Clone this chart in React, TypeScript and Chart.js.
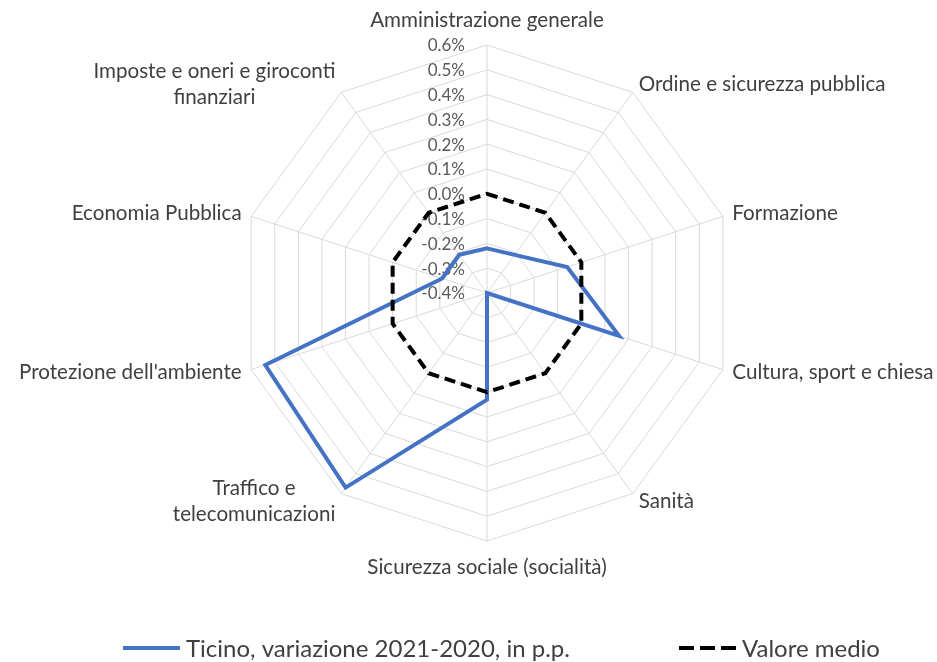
import { useEffect, useRef } from 'react';
import { Chart, registerables } from 'chart.js';

Chart.register(...registerables);

const CATEGORIES: (string | string[])[] = [
  'Amministrazione generale',
  'Ordine e sicurezza pubblica',
  'Formazione',
  'Cultura, sport e chiesa',
  'Sanità',
  'Sicurezza sociale (socialità)',
  ['Traffico e', 'telecomunicazioni'],
  "Protezione dell'ambiente",
  'Economia Pubblica',
  ['Imposte e oneri e giroconti', 'finanziari'],
];

const TICINO = [-0.22, -0.21, -0.06, 0.16, -0.4, 0.03, 0.57, 0.54, -0.21, -0.21];
const VALORE_MEDIO = [0, 0, 0, 0, 0, 0, 0, 0, 0, 0];

const TICK_VALUES = [-0.4, -0.3, -0.2, -0.1, 0.0, 0.1, 0.2, 0.3, 0.4, 0.5, 0.6];
const TICK_LABELS = ['-0.4%', '-0.3%', '-0.2%', '-0.1%', '0.0%', '0.1%', '0.2%', '0.3%', '0.4%', '0.5%', '0.6%'];

const SERIES_NAMES = ['Ticino, variazione 2021-2020, in p.p.', 'Valore medio'];

const FONT = 'Lato, "Open Sans", sans-serif';
const BLUE = '#4472C4';
const BLACK = '#000000';

const excelDecor = {
  id: 'excelDecor',
  beforeDatasetsDraw(chart: any) {
    const s = chart.scales.r;
    const ctx = chart.ctx;
    ctx.save();
    ctx.font = `17px ${FONT}`;
    ctx.fillStyle = '#595959';
    ctx.textAlign = 'right';
    ctx.textBaseline = 'middle';
    TICK_VALUES.forEach((v, i) => {
      const y = s.yCenter - s.getDistanceFromCenterForValue(v);
      ctx.fillText(TICK_LABELS[i], s.xCenter - 22, y + 1);
    });
    ctx.restore();
  },
  afterDraw(chart: any) {
    const s = chart.scales.r;
    const ctx = chart.ctx;
    ctx.save();
    // category labels
    ctx.font = `20.6px ${FONT}`;
    ctx.fillStyle = '#404040';
    ctx.textAlign = 'center';
    ctx.textBaseline = 'middle';
    const lineH = 26;
    const gap = 10;
    (chart.data.labels as (string | string[])[]).forEach((lab, i) => {
      const lines = Array.isArray(lab) ? lab : [lab];
      const a = s.getIndexAngle(i);
      const sin = Math.sin(a);
      const cos = Math.cos(a);
      const p = s.getPointPosition(i, s.drawingArea + gap);
      const w = Math.max(...lines.map((l) => ctx.measureText(l).width));
      const h = lines.length * lineH;
      let cx: number;
      let cy: number;
      if (Math.abs(sin) < 0.01) {
        cx = p.x;
        cy = cos > 0 ? p.y - h / 2 - 2 : p.y + h / 2 + 3;
      } else {
        cx = sin > 0 ? p.x + w / 2 : p.x - w / 2;
        cy = p.y;
      }
      lines.forEach((l, k) => ctx.fillText(l, cx, cy - h / 2 + lineH * (k + 0.5)));
    });

    // legend
    const legendY = 648;
    const starts = [123, 679];
    const sampleW = [57, 57];
    ctx.font = `24px ${FONT}`;
    ctx.textAlign = 'left';
    chart.data.datasets.forEach((ds: any, i: number) => {
      const x0 = starts[i];
      const dashed = ds.borderDash && ds.borderDash.length;
      ctx.beginPath();
      ctx.strokeStyle = ds.borderColor;
      ctx.lineWidth = ds.borderWidth;
      ctx.setLineDash(dashed ? [15, 6] : []);
      ctx.lineCap = 'butt';
      ctx.moveTo(x0, legendY);
      ctx.lineTo(x0 + sampleW[i], legendY);
      ctx.stroke();
      ctx.setLineDash([]);
      ctx.fillStyle = '#404040';
      ctx.fillText(ds.label, x0 + sampleW[i] + 6, legendY + 1);
    });
    ctx.restore();
  },
};

export default function App() {
  const ref = useRef<HTMLCanvasElement | null>(null);

  useEffect(() => {
    if (!ref.current) return;
    const chart = new Chart(ref.current, {
      type: 'radar',
      data: {
        labels: CATEGORIES,
        datasets: [
          {
            label: SERIES_NAMES[0],
            data: TICINO,
            borderColor: BLUE,
            backgroundColor: BLUE,
            borderWidth: 4,
            pointRadius: 0,
            fill: false,
            tension: 0,
            order: 1,
          },
          {
            label: SERIES_NAMES[1],
            data: VALORE_MEDIO,
            borderColor: BLACK,
            backgroundColor: BLACK,
            borderWidth: 4,
            borderDash: [11, 6],
            pointRadius: 0,
            fill: false,
            tension: 0,
            order: 0,
          },
        ],
      },
      options: {
        responsive: false,
        animation: false,
        layout: { padding: { left: 238.5, right: 201.5, top: 45, bottom: 120 } },
        plugins: {
          legend: { display: false },
          tooltip: { enabled: false },
        },
        scales: {
          r: {
            min: -0.4,
            max: 0.6,
            startAngle: 0,
            afterBuildTicks: (scale: any) => {
              scale.ticks = TICK_VALUES.map((v) => ({ value: v }));
            },
            ticks: { display: false, stepSize: 0.1 },
            grid: { color: '#D9D9D9', lineWidth: 1, circular: false },
            angleLines: { display: true, color: '#D9D9D9', lineWidth: 1 },
            pointLabels: { display: false },
          },
        },
      },
      plugins: [excelDecor],
    });
    return () => chart.destroy();
  }, []);

  return (
    <div style={{ position: 'fixed', left: 0, top: 0, width: 937, height: 662, background: '#fff' }}>
      <canvas ref={ref} width={937} height={662} style={{ display: 'block' }} />
    </div>
  );
}
